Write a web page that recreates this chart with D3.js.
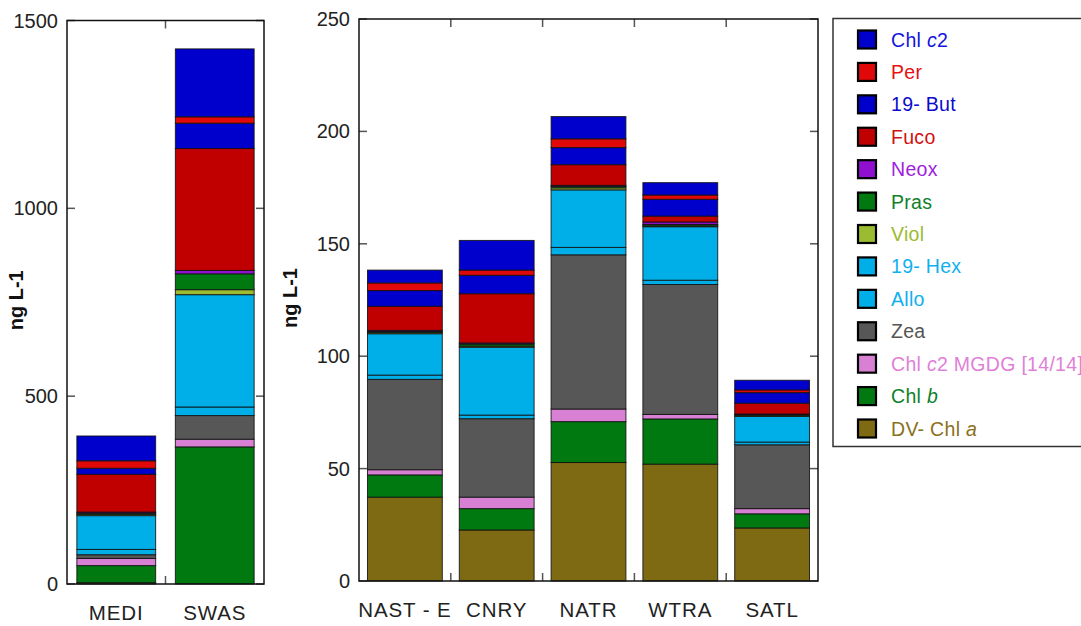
<!DOCTYPE html>
<html>
<head>
<meta charset="utf-8">
<script src="https://cdn.jsdelivr.net/npm/d3@7"></script>
<style>
body { margin: 0; background: #fff; }
svg { display: block; font-family: "Liberation Sans", Arial, sans-serif; }
.tick-label { font-size: 20px; fill: #222; }
.cat-label { font-size: 20.5px; fill: #222; letter-spacing: 0.9px; }
.axis-title { font-size: 20px; font-weight: bold; fill: #111; }
.legend-text { font-size: 19.5px; letter-spacing: 0.3px; }
</style>
</head>
<body>
<svg id="chart" width="1081" height="626"></svg>
<script>

// sites, in the order the bars are drawn
var sites = ["MEDI", "SWAS", "NAST - E", "CNRY", "NATR", "WTRA", "SATL"];

// pigment concentrations (ng L-1), one value per site
var dvChla = [3.5, 0, 37.3, 22.7, 52.7, 52.0, 23.6];
var chlb = [45.5, 365, 9.9, 9.5, 18.2, 20.1, 6.3];
var chlc2Mgdg = [19, 20.4, 2.3, 5.1, 5.6, 2.0, 2.3];
var zea = [10, 63, 40.2, 34.9, 68.6, 57.8, 28.4];
var allo = [14, 22.8, 1.9, 1.6, 3.3, 1.9, 1.2];
var hex19 = [90, 299, 18.4, 30.2, 25.6, 23.8, 11.4];
var viol = [3.5, 13.3, 0.5, 0.5, 0.9, 0.4, 0.5];
var pras = [3, 42.2, 0.5, 0.9, 0.6, 0.6, 0.3];
var neox = [3, 9, 0.5, 0.5, 0.5, 1.1, 0.3];
var fuco = [100.5, 324.6, 10.7, 21.9, 9.2, 2.6, 4.8];
var but19 = [16, 67.3, 7.0, 8.2, 7.6, 7.5, 4.7];
var per = [20, 17, 3.4, 2.3, 3.9, 1.9, 1.2];
var chlc2 = [66, 180.8, 5.7, 13.2, 9.9, 5.5, 4.3];

// stacking order, bottom to top
var seriesKeys = ["dvChla", "chlb", "chlc2Mgdg", "zea", "allo", "hex19", "viol", "pras", "neox", "fuco", "but19", "per", "chlc2"];
var seriesValues = [dvChla, chlb, chlc2Mgdg, zea, allo, hex19, viol, pras, neox, fuco, but19, per, chlc2];

// legend labels: [plain, italic, plain]
var seriesLabels = [
	["DV- Chl ", "a", ""],
	["Chl ", "b", ""],
	["Chl ", "c", "2 MGDG [14/14]"],
	["Zea", "", ""],
	["Allo", "", ""],
	["19- Hex", "", ""],
	["Viol", "", ""],
	["Pras", "", ""],
	["Neox", "", ""],
	["Fuco", "", ""],
	["19- But", "", ""],
	["Per", "", ""],
	["Chl ", "c", "2"]
];

var fillColors = ["#7f6a14", "#007a10", "#d880d4", "#575757", "#00aee8", "#00aee8", "#9bbb30", "#007a10", "#9010d0", "#c00000", "#0000cc", "#e00808", "#0000cc"];
var textColors = ["#8a7020", "#10802a", "#e080d8", "#555555", "#10b0f0", "#10b0f0", "#9bbb30", "#10802a", "#a020e0", "#d01010", "#0a0acc", "#e81010", "#1414e0"];

var leftTicks = [0, 500, 1000, 1500];
var rightTicks = [0, 50, 100, 150, 200, 250];

var svg = d3.select("#chart");

function buildRows(idxs)
{
	return idxs.map(function(i)
	{
		var row = { site: sites[i] };
		seriesKeys.forEach(function(k, j)
		{
			row[k] = seriesValues[j][i];
		});
		return row;
	});
}

function drawPanel(idxs, box, yMax, ticks, titleX)
{
	var g = svg.append("g");
	var rows = buildRows(idxs);
	var cats = rows.map(function(d) { return d.site; });

	var x = d3.scaleBand()
		.domain(cats)
		.range([box.x0, box.x1])
		.paddingInner(0)
		.paddingOuter(0);

	var y = d3.scaleLinear()
		.domain([0, yMax])
		.range([box.y1, box.y0]);

	var stacked = d3.stack().keys(seriesKeys)(rows);
	var barW = x.bandwidth() * box.barFrac;

	g.selectAll("g.layer")
		.data(stacked)
		.enter()
		.append("g")
		.attr("class", "layer")
		.attr("fill", function(d, i) { return fillColors[i]; })
		.selectAll("rect")
		.data(function(d) { return d; })
		.enter()
		.append("rect")
		.attr("x", function(d) { return x(d.data.site) + (x.bandwidth() - barW) / 2; })
		.attr("width", barW)
		.attr("y", function(d) { return y(d[1]); })
		.attr("height", function(d) { return Math.max(0, y(d[0]) - y(d[1])); })
		.attr("stroke", "#111")
		.attr("stroke-opacity", 0.85)
		.attr("stroke-width", 1);

	// inward y ticks on both sides
	var tl = 8;
	ticks.forEach(function(t)
	{
		g.append("line")
			.attr("x1", box.x0).attr("x2", box.x0 + tl)
			.attr("y1", y(t)).attr("y2", y(t))
			.attr("stroke", "#555").attr("stroke-width", 1.5);
		g.append("line")
			.attr("x1", box.x1).attr("x2", box.x1 - tl)
			.attr("y1", y(t)).attr("y2", y(t))
			.attr("stroke", "#555").attr("stroke-width", 1.5);
		g.append("text")
			.attr("class", "tick-label")
			.attr("x", box.x0 - 9)
			.attr("y", y(t) + 7)
			.attr("text-anchor", "end")
			.text(t);
	});

	// category boundary ticks, top and bottom
	cats.slice(1).forEach(function(c)
	{
		var bx = x(c);
		g.append("line")
			.attr("x1", bx).attr("x2", bx)
			.attr("y1", box.y0).attr("y2", box.y0 + tl)
			.attr("stroke", "#555").attr("stroke-width", 1.5);
		g.append("line")
			.attr("x1", bx).attr("x2", bx)
			.attr("y1", box.y1).attr("y2", box.y1 - tl)
			.attr("stroke", "#555").attr("stroke-width", 1.5);
	});

	g.selectAll("text.cat-label")
		.data(cats)
		.enter()
		.append("text")
		.attr("class", "cat-label")
		.attr("x", function(d) { return x(d) + x.bandwidth() / 2; })
		.attr("y", box.y1 + 36)
		.attr("text-anchor", "middle")
		.text(function(d) { return d; });

	// frame
	g.append("rect")
		.attr("x", box.x0)
		.attr("y", box.y0)
		.attr("width", box.x1 - box.x0)
		.attr("height", box.y1 - box.y0)
		.attr("fill", "none")
		.attr("stroke", "#111")
		.attr("stroke-width", 1.5);

	g.append("text")
		.attr("class", "axis-title")
		.attr("transform", "translate(" + titleX + "," + ((box.y0 + box.y1) / 2 - 2) + ") rotate(-90)")
		.attr("text-anchor", "middle")
		.text("ng L-1");
}

function drawLegend()
{
	var lg = svg.append("g");

	lg.append("rect")
		.attr("x", 833)
		.attr("y", 18.5)
		.attr("width", 300)
		.attr("height", 428)
		.attr("fill", "#fff")
		.attr("stroke", "#333")
		.attr("stroke-width", 1.5);

	var order = d3.range(seriesKeys.length).reverse();
	var ly = d3.scalePoint()
		.domain(order)
		.range([39.5, 428.5]);

	var items = lg.selectAll("g.item")
		.data(order)
		.enter()
		.append("g")
		.attr("class", "item")
		.attr("transform", function(d) { return "translate(0," + ly(d) + ")"; });

	items.append("rect")
		.attr("x", 858)
		.attr("y", -9)
		.attr("width", 18)
		.attr("height", 18)
		.attr("fill", function(d) { return fillColors[d]; })
		.attr("stroke", "#000")
		.attr("stroke-width", 2.2);

	var txt = items.append("text")
		.attr("class", "legend-text")
		.attr("x", 891)
		.attr("y", 7)
		.attr("fill", function(d) { return textColors[d]; });

	txt.append("tspan").text(function(d) { return seriesLabels[d][0]; });
	txt.append("tspan").attr("font-style", "italic").text(function(d) { return seriesLabels[d][1]; });
	txt.append("tspan").text(function(d) { return seriesLabels[d][2]; });
}

drawPanel([0, 1], { x0: 67, x1: 264, y0: 20.5, y1: 584, barFrac: 0.8 }, 1500, leftTicks, 23);
drawPanel([2, 3, 4, 5, 6], { x0: 359, x1: 818, y0: 19, y1: 581, barFrac: 0.815 }, 250, rightTicks, 297);
drawLegend();

</script>
</body>
</html>
